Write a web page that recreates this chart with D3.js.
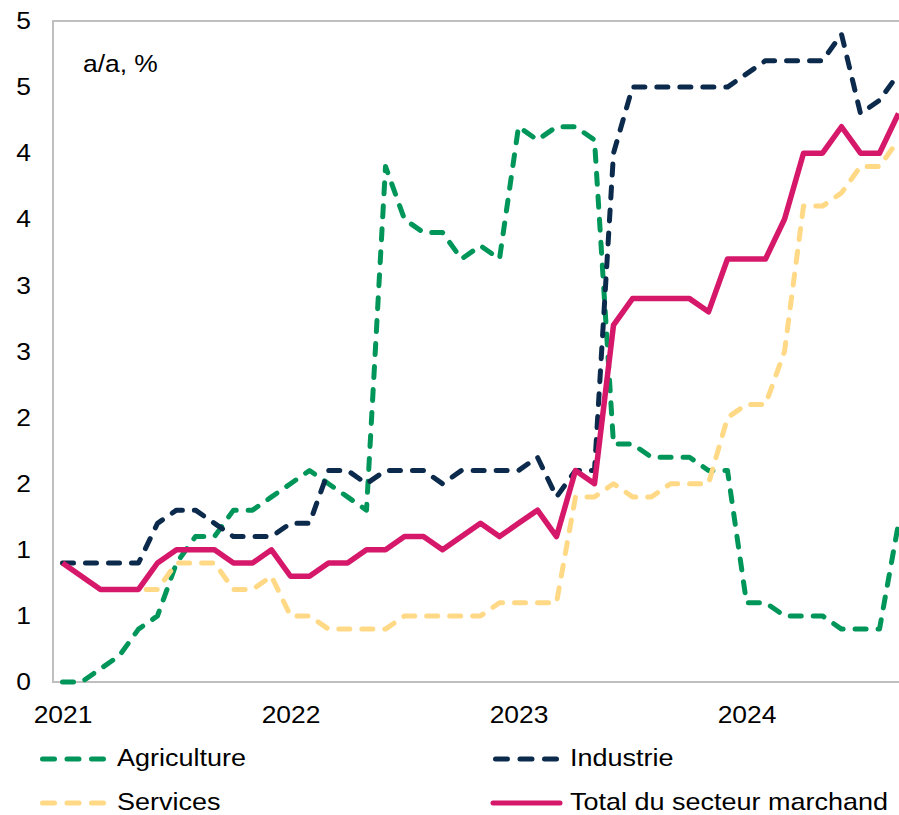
<!DOCTYPE html>
<html>
<head>
<meta charset="utf-8">
<script src="https://cdn.jsdelivr.net/npm/d3@7"></script>
<style>
  body { margin: 0; background: #fff; }
  text { font-family: "Liberation Sans", Arial, sans-serif; fill: #000; }
  .stretch { transform-box: fill-box; }
</style>
</head>
<body>
<div id="chart"></div>
<script>
// data (monthly, Jan 2021 - Sep 2024)
var months = d3.range(45).map(function(i) {
  return (2021 + Math.floor(i / 12)) + "-" + String(i % 12 + 1).padStart(2, "0");
});
var agriculture = [0.0, 0.0, 0.1, 0.2, 0.4, 0.5, 0.9, 1.1, 1.1, 1.3, 1.3, 1.4,
  1.5, 1.6, 1.5, 1.4, 1.3, 3.9, 3.5, 3.4, 3.4, 3.2, 3.3, 3.2,
  4.2, 4.1, 4.2, 4.2, 4.1, 1.8, 1.8, 1.7, 1.7, 1.7, 1.6, 1.6,
  0.6, 0.6, 0.5, 0.5, 0.5, 0.4, 0.4, 0.4, 1.2];
var services = [0.9, 0.8, 0.7, 0.7, 0.7, 0.7, 0.9, 0.9, 0.9, 0.7, 0.7, 0.8,
  0.5, 0.5, 0.4, 0.4, 0.4, 0.4, 0.5, 0.5, 0.5, 0.5, 0.5, 0.6,
  0.6, 0.6, 0.6, 1.4, 1.4, 1.5, 1.4, 1.4, 1.5, 1.5, 1.5, 2.0,
  2.1, 2.1, 2.5, 3.6, 3.6, 3.7, 3.9, 3.9, 4.1];
var industrie = [0.9, 0.9, 0.9, 0.9, 0.9, 1.2, 1.3, 1.3, 1.2, 1.1, 1.1, 1.1,
  1.2, 1.2, 1.6, 1.6, 1.5, 1.6, 1.6, 1.6, 1.5, 1.6, 1.6, 1.6,
  1.6, 1.7, 1.4, 1.6, 1.6, 4.0, 4.5, 4.5, 4.5, 4.5, 4.5, 4.5,
  4.6, 4.7, 4.7, 4.7, 4.7, 4.9, 4.3, 4.4, 4.6];
var total = [0.9, 0.8, 0.7, 0.7, 0.7, 0.9, 1.0, 1.0, 1.0, 0.9, 0.9, 1.0,
  0.8, 0.8, 0.9, 0.9, 1.0, 1.0, 1.1, 1.1, 1.0, 1.1, 1.2, 1.1,
  1.2, 1.3, 1.1, 1.6, 1.5, 2.7, 2.9, 2.9, 2.9, 2.9, 2.8, 3.2,
  3.2, 3.2, 3.5, 4.0, 4.0, 4.2, 4.0, 4.0, 4.3];

var yTicks = [0, 0.5, 1, 1.5, 2, 2.5, 3, 3.5, 4, 4.5, 5];
var yTickLabels = ["0", "1", "1", "2", "2", "3", "3", "4", "4", "5", "5"];
var xTicks = ["2021-01", "2022-01", "2023-01", "2024-01"];
var xTickLabels = ["2021", "2022", "2023", "2024"];

var series = [
  { name: "Agriculture", values: agriculture, color: "#00965a", dash: true },
  { name: "Services", values: services, color: "#ffd985", dash: true },
  { name: "Industrie", values: industrie, color: "#0c2a4c", dash: true },
  { name: "Total du secteur marchand", values: total, color: "#d6186a", dash: false }
];

// svg params
var svgWidth = 899;
var svgHeight = 815;
var plot = { left: 53, top: 21, right: 908, bottom: 682 };
var stretch = 1.1;

var svg = d3.select("#chart")
  .append("svg")
  .attr("width", svgWidth)
  .attr("height", svgHeight);

// scales
var xScale = d3.scalePoint()
  .domain(months)
  .range([plot.left, plot.right])
  .padding(0.5);

var yScale = d3.scaleLinear()
  .domain([0, 5])
  .range([plot.bottom, plot.top]);

// plot area border
svg.append("rect")
  .attr("x", plot.left)
  .attr("y", plot.top)
  .attr("width", plot.right - plot.left)
  .attr("height", plot.bottom - plot.top)
  .attr("fill", "none")
  .attr("stroke", "#bfbfbf")
  .attr("stroke-width", 2);

// axes
var leftAxis = d3.axisLeft(yScale)
  .tickValues(yTicks)
  .tickFormat(function(d, i) { return yTickLabels[i]; })
  .tickSize(0)
  .tickPadding(22);

var yAxisG = svg.append("g")
  .attr("transform", "translate(" + plot.left + ",0)")
  .call(leftAxis);
yAxisG.select(".domain").remove();
yAxisG.selectAll("text")
  .attr("font-size", 24)
  .attr("font-family", null)
  .attr("class", "stretch")
  .style("transform-origin", "right center")
  .style("transform", "scaleX(" + stretch + ")");

var bottomAxis = d3.axisBottom(xScale)
  .tickValues(xTicks)
  .tickFormat(function(d, i) { return xTickLabels[i]; })
  .tickSize(0);

var xAxisG = svg.append("g")
  .attr("transform", "translate(0," + plot.bottom + ")")
  .call(bottomAxis);
xAxisG.select(".domain").remove();
xAxisG.selectAll("text")
  .attr("font-size", 24)
  .attr("font-family", null)
  .attr("y", 41)
  .attr("dy", 0)
  .attr("class", "stretch")
  .style("transform-origin", "center")
  .style("transform", "scaleX(" + stretch + ")");

// unit label
svg.append("text")
  .attr("x", 83)
  .attr("y", 72)
  .attr("font-size", 24)
  .attr("class", "stretch")
  .style("transform-origin", "left center")
  .style("transform", "scaleX(" + stretch + ")")
  .text("a/a, %");

// lines
var line = d3.line()
  .x(function(d, i) { return xScale(months[i]); })
  .y(function(d) { return yScale(d); });

svg.selectAll(".series")
  .data(series)
  .enter()
  .append("path")
  .attr("class", "series")
  .attr("d", function(d) { return line(d.values); })
  .attr("fill", "none")
  .attr("stroke", function(d) { return d.color; })
  .attr("stroke-width", function(d) { return d.dash ? 5 : 5.5; })
  .attr("stroke-linecap", function(d) { return d.dash ? "round" : "butt"; })
  .attr("stroke-linejoin", "round")
  .attr("stroke-dasharray", function(d) { return d.dash ? "11,12" : null; });

// legend
var legendPos = {
  "Agriculture": [40, 759],
  "Industrie": [493, 759],
  "Services": [40, 803],
  "Total du secteur marchand": [493, 803]
};

var legend = svg.selectAll(".legend")
  .data(series)
  .enter()
  .append("g")
  .attr("class", "legend")
  .attr("transform", function(d) {
    return "translate(" + legendPos[d.name][0] + "," + legendPos[d.name][1] + ")";
  });

legend.append("line")
  .attr("x1", function(d) { return d.dash ? 2.5 : 0; })
  .attr("x2", function(d) { return d.dash ? 63.5 : 67; })
  .attr("y1", 0)
  .attr("y2", 0)
  .attr("stroke", function(d) { return d.color; })
  .attr("stroke-width", 5)
  .attr("stroke-linecap", "round")
  .attr("stroke-dasharray", function(d) { return d.dash ? "12,12.5" : null; });

legend.append("text")
  .attr("x", 77)
  .attr("y", 7)
  .attr("font-size", 24)
  .attr("class", "stretch")
  .style("transform-origin", "left center")
  .style("transform", "scaleX(1.125)")
  .text(function(d) { return d.name; });
</script>
</body>
</html>
